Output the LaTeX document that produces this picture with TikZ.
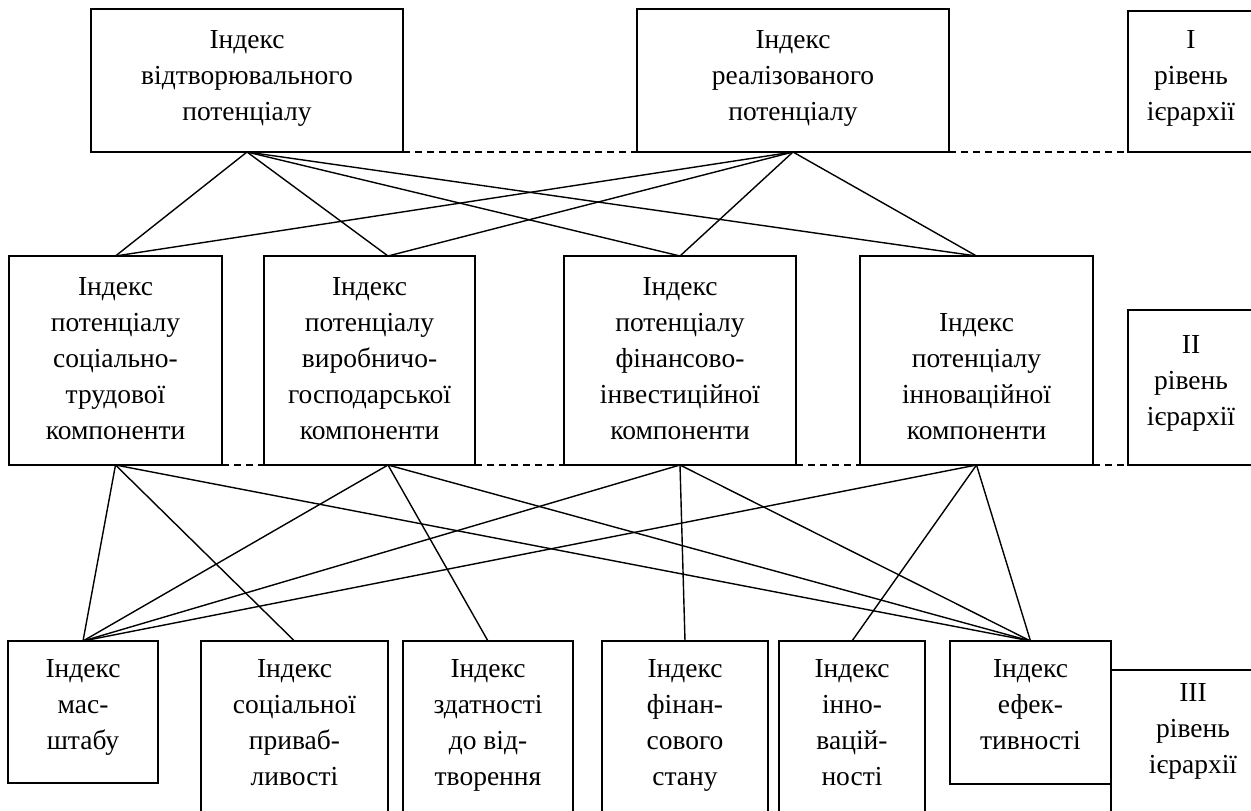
\documentclass[tikz,border=0pt]{standalone}
\usepackage{fontspec}
\setmainfont{Liberation Serif}
\newcommand\mkbox[7]{%
  \node[box,minimum width={#4-#2},minimum height={#5-#3}] (#1) at ({(#2+#4)/2},{(#3+#5)/2}) {};
  \node[txt] (#1t) at ({(#2+#4)/2},{#6-20}) {\rule{0pt}{20pt}#7};}
\begin{document}
\begin{tikzpicture}[x=1pt,y=-1pt,
  box/.style={draw,line width=1.5pt,inner sep=0pt,outer sep=0pt},
  txt/.style={align=center,inner sep=0pt,anchor=north,font=\fontsize{27.5}{36}\selectfont},
  link/.style={line width=1.4pt},
  lvl/.style={line width=1.4pt,dash pattern=on 7pt off 5pt}]
\useasboundingbox (0,0) rectangle (1251,811);
% level I
\mkbox{A}{91}{9}{403}{152}{48}{Індекс\\відтворювального\\потенціалу}
\mkbox{B}{637}{9}{949}{152}{48}{Індекс\\реалізованого\\потенціалу}
\mkbox{L1}{1128}{11}{1254}{152}{48}{I\\рівень\\ієрархії}
% level II
\mkbox{C1}{9}{256}{222}{465}{295}{Індекс\\потенціалу\\соціально-\\трудової\\компоненти}
\mkbox{C2}{264}{256}{475}{465}{295}{Індекс\\потенціалу\\виробничо-\\господарської\\компоненти}
\mkbox{C3}{564}{256}{796}{465}{295}{Індекс\\потенціалу\\фінансово-\\інвестиційної\\компоненти}
\mkbox{C4}{860}{256}{1093}{465}{331}{Індекс\\потенціалу\\інноваційної\\компоненти}
\mkbox{L2}{1128}{310}{1254}{465}{353}{II\\рівень\\ієрархії}
% level III
\mkbox{D1}{8}{641}{158}{783}{677}{Індекс\\мас-\\штабу}
\mkbox{D2}{201}{641}{388}{840}{677}{Індекс\\соціальної\\приваб-\\ливості}
\mkbox{D3}{403}{641}{573}{840}{677}{Індекс\\здатності\\до від-\\творення}
\mkbox{D4}{602}{641}{768}{840}{677}{Індекс\\фінан-\\сового\\стану}
\mkbox{D5}{779}{641}{925}{840}{677}{Індекс\\інно-\\вацій-\\ності}
\mkbox{D6}{950}{641}{1111}{784}{677}{Індекс\\ефек-\\тивності}
\mkbox{L3}{1111}{670}{1275}{900}{701}{III\\рівень\\ієрархії}
% attachment points of the second box
\coordinate (C2top) at ([xshift=18.5pt]C2.north);
\coordinate (C2bot) at ([xshift=18.5pt]C2.south);
% level separators
\draw[lvl] (A.south east) -- (B.south west);
\draw[lvl] (B.south east) -- ([xshift=17pt]L1.south west);
\draw[lvl] (C1.south east) -- (C2.south west);
\draw[lvl] (C2.south east) -- (C3.south west);
\draw[lvl] (C3.south east) -- (C4.south west);
\draw[lvl] (C4.south east) -- ([xshift=17pt]L2.south west);
% links I -> II
\foreach \s in {A,B}{\foreach \t in {C1.north,C2top,C3.north,C4.north}{\draw[link] (\s.south) -- (\t);}}
% links II -> III
\foreach \s in {C1.south,C2bot,C3.south,C4.south}{\draw[link] (\s) -- (D1.north); \draw[link] (\s) -- (D6.north);}
\draw[link] (C1.south) -- (D2.north);
\draw[link] (C2bot) -- (D3.north);
\draw[link] (C3.south) -- (D4.north);
\draw[link] (C4.south) -- (D5.north);
\end{tikzpicture}
\end{document}
